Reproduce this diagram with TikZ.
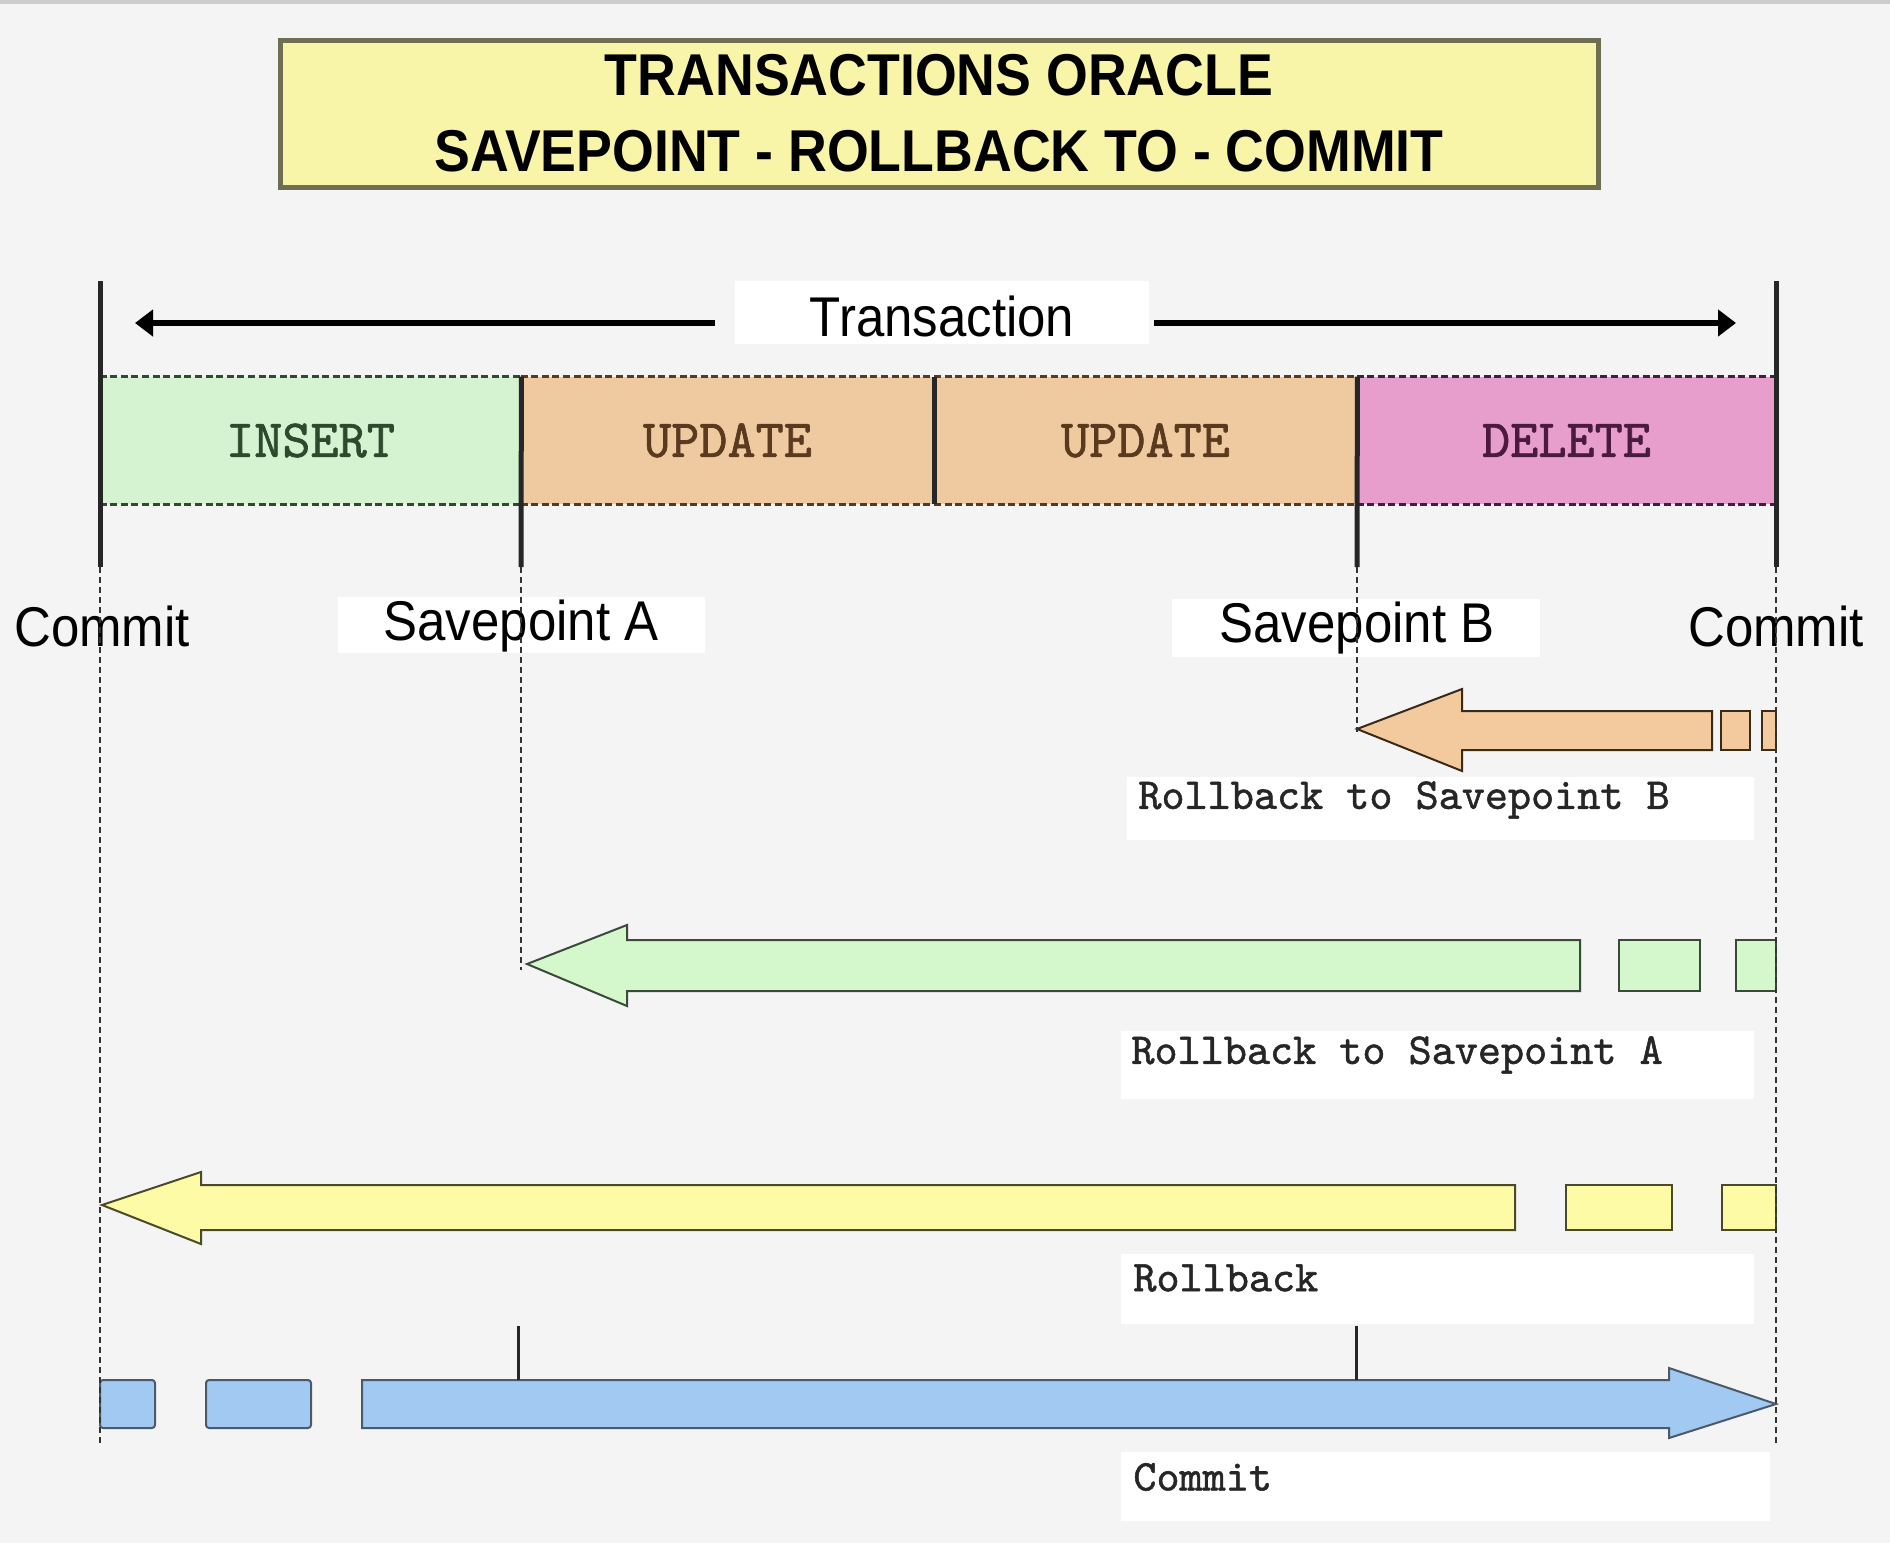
\documentclass[tikz,border=0pt]{standalone}
\usepackage{fontspec}
\setmainfont{Liberation Sans}
\newfontfamily\labelfont[FakeStretch=0.91]{Liberation Sans}
\newfontfamily\codefont[FakeBold=1.2]{lmmono10-regular.otf}
\usetikzlibrary{arrows.meta}
\definecolor{bgc}{HTML}{F4F4F4}
\definecolor{titlefill}{HTML}{F8F4A8}
\definecolor{titledraw}{HTML}{6E6E52}
\definecolor{insfill}{HTML}{D5F3D0}
\definecolor{instext}{HTML}{2E4A2E}
\definecolor{insdash}{HTML}{2F4A2F}
\definecolor{updfill}{HTML}{EFC9A0}
\definecolor{updtext}{HTML}{5A3A1E}
\definecolor{upddash}{HTML}{5A3A1E}
\definecolor{delfill}{HTML}{E79ECC}
\definecolor{deltext}{HTML}{4A1A40}
\definecolor{deldash}{HTML}{4A1A40}
\definecolor{orfill}{HTML}{F3C99E}
\definecolor{ordraw}{HTML}{3A2A1A}
\definecolor{grfill}{HTML}{D4F8CC}
\definecolor{grdraw}{HTML}{3A4A3A}
\definecolor{yefill}{HTML}{FDFBA6}
\definecolor{yedraw}{HTML}{4A4A2A}
\definecolor{blfill}{HTML}{A2C9F2}
\definecolor{bldraw}{HTML}{4A5A6A}
\begin{document}
\begin{tikzpicture}[x=0.5pt,y=-0.5pt,
  titlebox/.style={draw=titledraw, line width=2.5pt, fill=titlefill, minimum width=659pt, minimum height=73.5pt, align=center, inner sep=0pt, font=\labelfont\bfseries\fontsize{29.5}{38}\selectfont},
  sanslabel/.style={font=\labelfont\fontsize{28}{32}\selectfont, inner sep=0pt},
  seg/.style={minimum height=63.5pt, inner sep=0pt, font=\codefont\fontsize{26.8}{30}\selectfont},
  codelabel/.style={font=\codefont\fontsize{22}{26}\selectfont, inner sep=0pt, anchor=west, text=black!85},
  vline/.style={line width=2.5pt, black!85},
  dline/.style={line width=0.6pt, black!80, dash pattern=on 3pt off 2pt},
  segdash/.style={line width=1.5pt, dash pattern=on 3.5pt off 1.8pt},
  trarrow/.style={line width=3pt, -{Triangle[length=9pt,width=13pt]}},
  blockarrow/.style={line width=1pt, line join=miter},
  tick/.style={line width=1.5pt, black!85}
]
\fill[bgc] (0,0) rectangle (1890,1543);
\useasboundingbox (0,0) rectangle (1890,1543);
\fill[black!20] (0,0) rectangle (1890,4);

% title
\node[titlebox] (title) at (939,113.5) {TRANSACTIONS ORACLE\\SAVEPOINT - ROLLBACK TO - COMMIT};

% transaction
\fill[white] (735,281) rectangle (1149,344);
\node[sanslabel] (tr) at (942,316) {Transaction};
\coordinate (trL0) at (715,323);
\coordinate (trL1) at (135,323);
\coordinate (trR0) at (1154,323);
\coordinate (trR1) at (1736,323);
\draw[trarrow] (trL0) -- (trL1);
\draw[trarrow] (trR0) -- (trR1);

% bar segments
\node[seg, fill=insfill, text=instext, minimum width=210.5pt] (ins) at (310.5,440.5) {INSERT};
\node[seg, fill=updfill, text=updtext, minimum width=206.5pt] (up1) at (727.5,440.5) {UPDATE};
\node[seg, fill=updfill, text=updtext, minimum width=211.5pt] (up2) at (1145.5,440.5) {UPDATE};
\node[seg, fill=delfill, text=deltext, minimum width=209.5pt] (del) at (1566.5,440.5) {DELETE};
\draw[segdash, insdash] (ins.north west) -- (ins.north east);
\draw[segdash, insdash] (ins.south west) -- (ins.south east);
\draw[segdash, upddash] (up1.north west) -- (up2.north east);
\draw[segdash, upddash] (up1.south west) -- (up2.south east);
\draw[segdash, deldash] (del.north west) -- (del.north east);
\draw[segdash, deldash] (del.south west) -- (del.south east);

% thick vertical lines
\draw[vline] (100,281) -- (100,567);
\draw[vline] (1776,281) -- (1776,567);
\draw[vline] (ins.north east) -- (521,567);
\draw[vline] (up2.north east) -- (1357,567);
\draw[vline] (up1.north east) -- (up1.south east);

% point labels
\node[sanslabel] (cL) at (102,626) {Commit};
\fill[white] (338,597) rectangle (705,653);
\node[sanslabel] (spA) at (521,626) {Savepoint A};
\fill[white] (1172,599) rectangle (1540,657);
\node[sanslabel] (spB) at (1357,628) {Savepoint B};
\node[sanslabel] (cR) at (1776,626) {Commit};

% label boxes
\fill[white] (1127,777) rectangle (1754,840);
\node[codelabel] (lbB) at (1138,800) {Rollback to Savepoint B};
\fill[white] (1121,1031) rectangle (1754,1099);
\node[codelabel] (lbA) at (1131,1055) {Rollback to Savepoint A};
\fill[white] (1121,1254) rectangle (1754,1324);
\node[codelabel] (lbR) at (1133,1278) {Rollback};
\fill[white] (1121,1452) rectangle (1770,1521);
\node[codelabel] (lbC) at (1133,1477) {Commit};

% orange arrow
\draw[blockarrow, draw=ordraw, fill=orfill] (1357,729) -- (1462,689) -- (1462,711) -- (1712,711) -- (1712,750) -- (1462,750) -- (1462,771) -- cycle;
\draw[blockarrow, draw=ordraw, fill=orfill] (1721,711) rectangle (1750,750);
\draw[blockarrow, draw=ordraw, fill=orfill] (1762,711) rectangle (1776,750);

% green arrow
\draw[blockarrow, draw=grdraw, fill=grfill] (527,964) -- (627,925) -- (627,940) -- (1580,940) -- (1580,991) -- (627,991) -- (627,1006) -- cycle;
\draw[blockarrow, draw=grdraw, fill=grfill] (1619,940) rectangle (1700,991);
\draw[blockarrow, draw=grdraw, fill=grfill] (1736,940) rectangle (1776,991);

% yellow arrow
\draw[blockarrow, draw=yedraw, fill=yefill] (102,1205) -- (201,1172) -- (201,1185) -- (1515,1185) -- (1515,1230) -- (201,1230) -- (201,1244) -- cycle;
\draw[blockarrow, draw=yedraw, fill=yefill] (1566,1185) rectangle (1672,1230);
\draw[blockarrow, draw=yedraw, fill=yefill] (1722,1185) rectangle (1776,1230);

% blue arrow
\draw[blockarrow, draw=bldraw, fill=blfill, rounded corners=1.5pt] (100,1380) rectangle (155,1428);
\draw[blockarrow, draw=bldraw, fill=blfill, rounded corners=1.5pt] (206,1380) rectangle (311,1428);
\draw[blockarrow, draw=bldraw, fill=blfill] (362,1380) -- (1669,1380) -- (1669,1368) -- (1776,1404) -- (1669,1438) -- (1669,1428) -- (362,1428) -- cycle;
\draw[tick] (518,1326) -- (518,1380);
\draw[tick] (1356,1326) -- (1356,1380);

% dashed vertical guides
\draw[dline] (100,567) -- (100,1446);
\draw[dline] (1776,567) -- (1776,1446);
\draw[dline] (521,567) -- (521,970);
\draw[dline] (1357,567) -- (1357,732);
\end{tikzpicture}
\end{document}
